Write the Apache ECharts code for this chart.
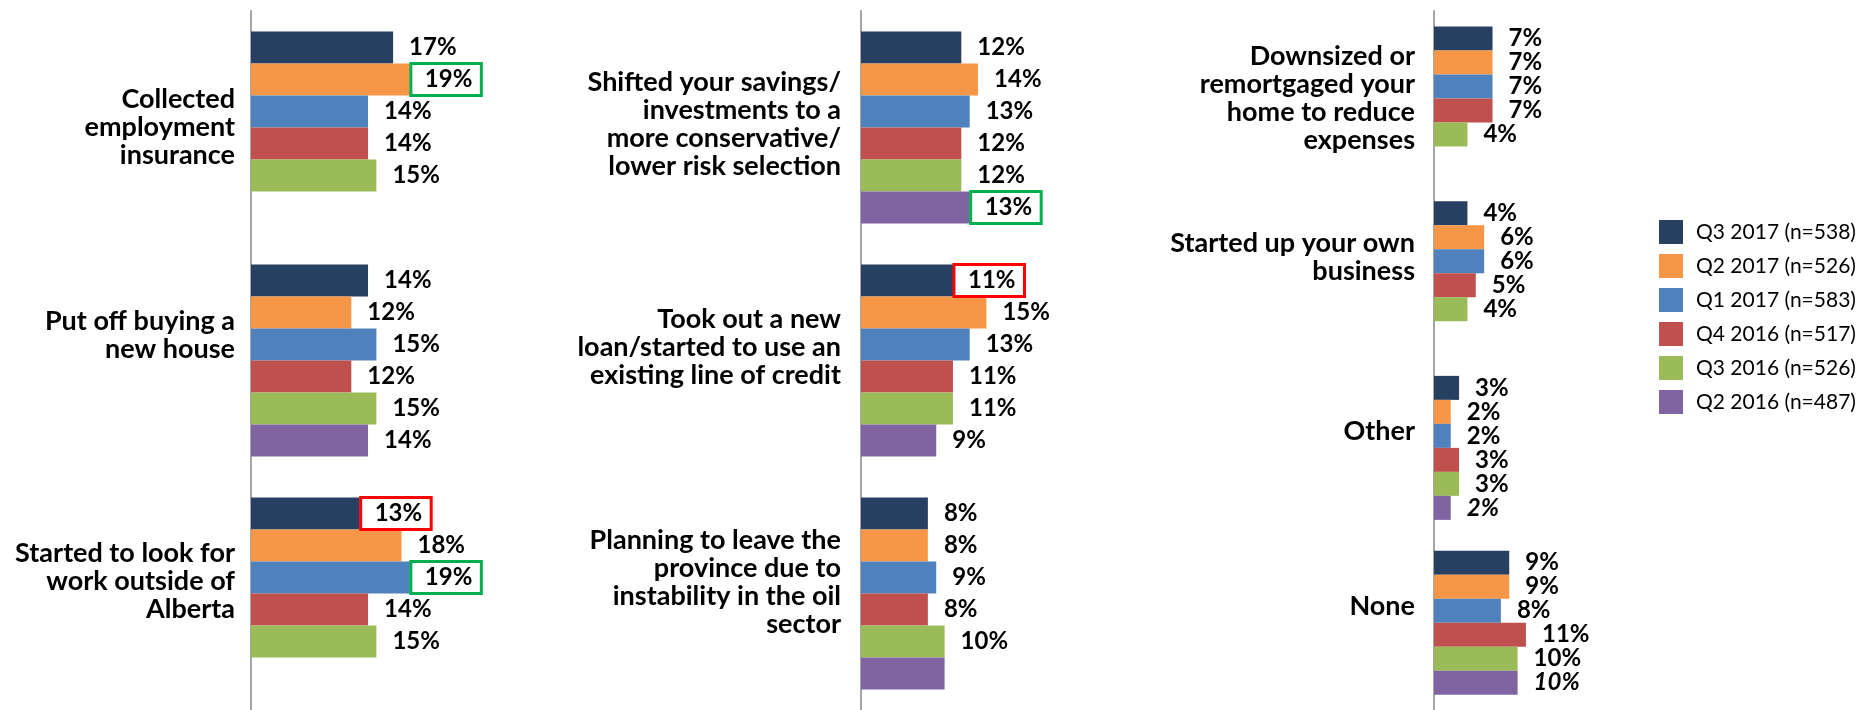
<!DOCTYPE html>
<html>
<head>
<meta charset="utf-8">
<script src="https://cdn.jsdelivr.net/npm/echarts@6/dist/echarts.min.js"></script>
<style>
  html, body { margin: 0; padding: 0; background: #ffffff; }
  #chart { width: 1870px; height: 710px; }
</style>
</head>
<body>
<div id="chart"></div>
<script>
// Survey waves, in the order they are drawn inside each group
const seriesNames = [
  'Q3 2017 (n=538)', 'Q2 2017 (n=526)', 'Q1 2017 (n=583)',
  'Q4 2016 (n=517)', 'Q3 2016 (n=526)', 'Q2 2016 (n=487)'
];

// Actions taken, across the three columns
const categories = [
  'Collected\nemployment\ninsurance',
  'Put off buying a\nnew house',
  'Started to look for\nwork outside of\nAlberta',
  'Shifted your savings/\ninvestments to a\nmore conservative/\nlower risk selection',
  'Took out a new\nloan/started to use an\nexisting line of credit',
  'Planning to leave the\nprovince due to\ninstability in the oil\nsector',
  'Downsized or\nremortgaged your\nhome to reduce\nexpenses',
  'Started up your own\nbusiness',
  'Other',
  'None'
];

// Percent of respondents, one array per wave (null = not asked)
const q3_2017 = [17, 14, 13, 12, 11, 8, 7, 4, 3, 9];
const q2_2017 = [19, 12, 18, 14, 15, 8, 7, 6, 2, 9];
const q1_2017 = [14, 15, 19, 13, 13, 9, 7, 6, 2, 8];
const q4_2016 = [14, 12, 14, 12, 11, 8, 7, 5, 3, 11];
const q3_2016 = [15, 15, 15, 12, 11, 10, 4, 4, 3, 10];
const q2_2016 = [null, 14, null, 13, 9, 10, null, null, 2, 10];

// Notable values: [wave index, category index]
const risesMarked = [[1, 0], [2, 2], [5, 3]];
const dropsMarked = [[0, 2], [0, 4]];
const withoutLabel = [[5, 5]];
const slantedLabel = [[5, 8], [5, 9]];

const waves = [q3_2017, q2_2017, q1_2017, q4_2016, q3_2016, q2_2016];
const colors = ['#273F60', '#F79646', '#4F81BD', '#C0504D', '#9BBB59', '#8064A2'];

// Column layout: category slice, left edge, axis max, bar thickness,
// label margin, and how far each category caption sits above its group centre
const PX_PER_PCT = 8.36;
const panels = [
  { from: 0, to: 3, left: 251, max: 25, bar: 32, margin: 16, lift: [0, 25, 12] },
  { from: 3, to: 6, left: 861, max: 25, bar: 32, margin: 20, lift: [3, 13, 11] },
  { from: 6, to: 10, left: 1434, max: 20, bar: 24, margin: 19, lift: [0, 16, 17, 16] }
];

const FONT = 'Lato, "Open Sans", sans-serif';

function hasMark(list, s, c) {
  return list.some(function (m) { return m[0] === s && m[1] === c; });
}

// spacer styles: an extra bottom line of height 2*lift raises the caption by lift
const spacerRich = {};
panels.forEach(function (p) {
  p.lift.forEach(function (v) {
    if (v > 0) spacerRich['s' + v] = { lineHeight: v * 2, fontSize: 2 };
  });
});

const grids = [], xAxes = [], yAxes = [], series = [];

panels.forEach(function (p, pi) {
  grids.push({ left: p.left, top: 11, height: 702, width: p.max * PX_PER_PCT, containLabel: false });
  xAxes.push({ type: 'value', gridIndex: pi, min: 0, max: p.max, show: false });
  yAxes.push({
    type: 'category',
    gridIndex: pi,
    inverse: true,
    data: categories.slice(p.from, p.to),
    axisLine: { show: true, lineStyle: { color: '#A6A6A6', width: 2 } },
    axisTick: { show: false },
    splitLine: { show: false },
    axisLabel: {
      interval: 0,
      margin: p.margin,
      fontFamily: FONT,
      fontWeight: 'bold',
      fontSize: 27,
      lineHeight: 28,
      color: '#000000',
      align: 'right',
      rich: spacerRich,
      formatter: function (value) {
        const idx = categories.slice(p.from, p.to).indexOf(value);
        const lift = idx >= 0 ? p.lift[idx] : 0;
        return lift > 0 ? value + '\n{s' + lift + '| }' : value;
      }
    }
  });

  waves.forEach(function (vals, si) {
    const data = vals.slice(p.from, p.to).map(function (v, i) {
      const ci = p.from + i;
      if (v === null) return null;
      const item = { value: v };
      if (hasMark(withoutLabel, si, ci)) {
        item.label = { show: false };
      } else if (hasMark(risesMarked, si, ci) || hasMark(dropsMarked, si, ci)) {
        item.label = {
          distance: 1,
          borderColor: hasMark(risesMarked, si, ci) ? '#00B050' : '#FF0000',
          borderWidth: 3,
          padding: [3, 9, 3, 14],
          lineHeight: 26
        };
      } else if (hasMark(slantedLabel, si, ci)) {
        item.label = { fontStyle: 'italic' };
      }
      return item;
    });
    series.push({
      type: 'bar',
      name: seriesNames[si],
      xAxisIndex: pi,
      yAxisIndex: pi,
      data: data,
      barWidth: p.bar,
      barGap: '0%',
      itemStyle: { color: colors[si] },
      emphasis: { disabled: true },
      label: {
        show: true,
        position: 'right',
        distance: 16,
        formatter: '{c}%',
        fontFamily: FONT,
        fontWeight: 'bold',
        fontSize: 24,
        color: '#000000'
      }
    });
  });
});

const chart = echarts.init(document.getElementById('chart'), null, { renderer: 'canvas' });
chart.setOption({
  animation: false,
  backgroundColor: '#ffffff',
  grid: grids,
  xAxis: xAxes,
  yAxis: yAxes,
  legend: {
    orient: 'vertical',
    left: 1654,
    top: 215,
    icon: 'rect',
    itemWidth: 24,
    itemHeight: 24,
    itemGap: 10,
    selectedMode: false,
    data: seriesNames,
    textStyle: { fontFamily: FONT, fontSize: 21, lineHeight: 24, color: '#000000', padding: [0, 0, 0, 8] }
  },
  series: series
});
</script>
</body>
</html>
